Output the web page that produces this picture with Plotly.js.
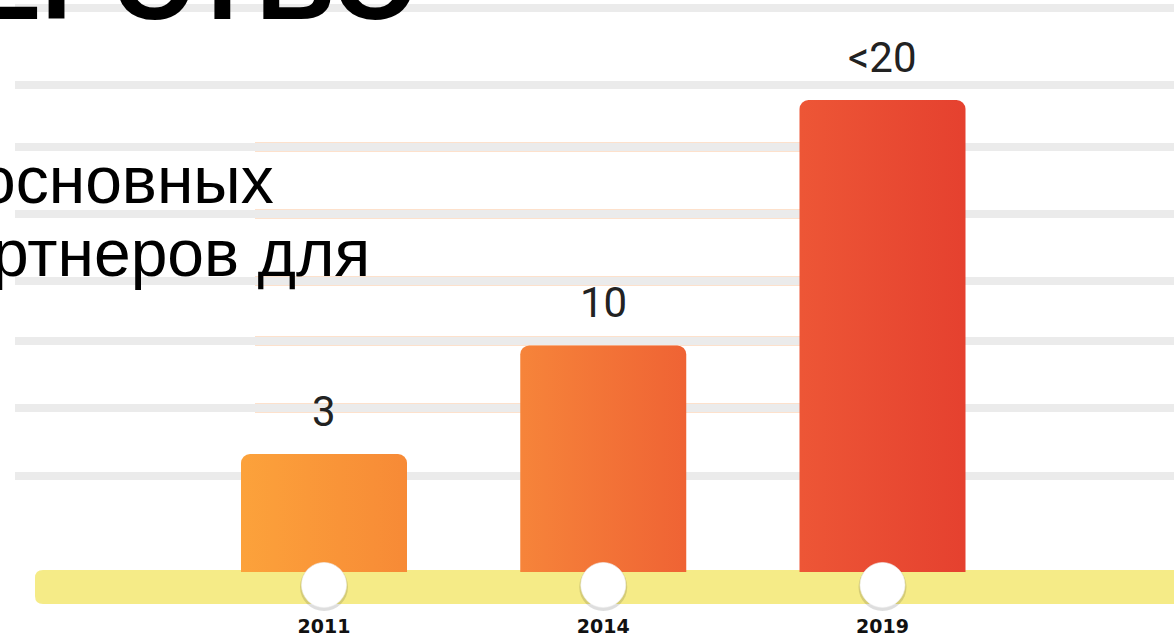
<!DOCTYPE html>
<html>
<head>
<meta charset="utf-8">
<script src="https://cdn.plot.ly/plotly-3.0.1.min.js"></script>
<style>
  html, body { margin: 0; padding: 0; background: #ffffff; }
  #chart { width: 1174px; height: 641px; }
</style>
</head>
<body>
<div id="chart"></div>
<script>
// ---- data ----
const years = ['2011', '2014', '2019'];
const barHeights = [5, 9.6, 20];          // drawn bar heights
const valueLabels = ['3', '10', '<20'];   // labels printed above bars
const markerLevel = [-0.55, -0.55, -0.55]; // timeline dots

// ---- style ----
const gradLeft  = ['#fca23b', '#f6843a', '#ed5636'];
const gradRight = ['#f78a36', '#ef6334', '#e5412f'];

const W = 1174, H = 641, MB = 28, PH = H - MB;
const pxPerUnitX = 279.25, pxPerUnitY = 23.6, x0px = 324, basePx = 572;
const px = x => x / W;
const py = y => 1 - y / PH;

const xRange = [-x0px / pxPerUnitX, (W - x0px) / pxPerUnitX];
const yRange = [-(PH - basePx) / pxPerUnitY, basePx / pxPerUnitY];
const shift = 2 / pxPerUnitY;

const esc = s => s.replace(/&/g, '&amp;').replace(/</g, '&lt;').replace(/>/g, '&gt;');

const traces = [
  {
    type: 'bar', x: years, y: barHeights,
    width: 166 / pxPerUnitX,
    marker: { color: gradRight, cornerradius: 9, line: { width: 0 } },
    hoverinfo: 'skip', showlegend: false
  },
  {
    type: 'scatter', mode: 'markers', x: years,
    y: markerLevel.map(v => v - shift),
    marker: { size: 48, color: 'rgba(0,0,0,0.13)', line: { width: 0 } },
    hoverinfo: 'skip', showlegend: false
  },
  {
    type: 'scatter', mode: 'markers', x: years, y: markerLevel,
    marker: { size: 45, color: '#ffffff', line: { width: 0.6, color: '#f0f0f0' } },
    hoverinfo: 'skip', showlegend: false
  }
];

// gridlines (decorative slide background)
const gridY = [8, 85, 147, 214, 281, 341, 408, 476];
const shapes = [];
gridY.forEach(y => {
  shapes.push({ type: 'line', xref: 'paper', yref: 'paper', x0: px(15), x1: px(W + 10),
    y0: py(y), y1: py(y), line: { color: '#ebebeb', width: 8 }, layer: 'below' });
});
[147, 214, 281, 341, 408].forEach(y => {
  [-4.5, 4.5].forEach(d => {
    shapes.push({ type: 'line', xref: 'paper', yref: 'paper', x0: px(255), x1: px(800),
      y0: py(y + d), y1: py(y + d), line: { color: 'rgba(248,170,110,0.35)', width: 1 }, layer: 'below' });
  });
});
// yellow timeline band with rounded left end
(function () {
  const L = 35, R = 1190, T = 570, B = 604, r = 8;
  const p = `M ${px(L + r)} ${py(T)} L ${px(R)} ${py(T)} L ${px(R)} ${py(B)} L ${px(L + r)} ${py(B)} ` +
            `Q ${px(L)} ${py(B)} ${px(L)} ${py(B - r)} L ${px(L)} ${py(T + r)} Q ${px(L)} ${py(T)} ${px(L + r)} ${py(T)} Z`;
  shapes.push({ type: 'path', xref: 'paper', yref: 'paper', path: p,
    fillcolor: '#f5eb87', line: { width: 0 }, layer: 'below' });
})();

const annotations = valueLabels.map((lab, i) => ({
  x: i, y: barHeights[i], xref: 'x', yref: 'y',
  text: esc(lab), showarrow: false, xanchor: 'center', yanchor: 'middle', yshift: 43,
  font: { family: 'Roboto, Arial, sans-serif', size: 42, color: '#222222' }
}));

// slide text fragments cut by the crop
annotations.push({
  xref: 'paper', yref: 'paper', x: px(420), y: py(44), xanchor: 'right', yanchor: 'bottom',
  text: 'ЕРСТВО', showarrow: false,
  font: { family: 'Liberation Sans, Arial, sans-serif', size: 110, color: '#000000', weight: 'bold' }
});
annotations.push({
  xref: 'paper', yref: 'paper', x: px(276), y: py(219), xanchor: 'right', yanchor: 'bottom',
  text: 'основных', showarrow: false,
  font: { family: 'Liberation Sans, Arial, sans-serif', size: 66, color: '#000000' }
});
annotations.push({
  xref: 'paper', yref: 'paper', x: px(372), y: py(292), xanchor: 'right', yanchor: 'bottom',
  text: 'ртнеров для', showarrow: false,
  font: { family: 'Liberation Sans, Arial, sans-serif', size: 66, color: '#000000' }
});

const layout = {
  width: W, height: H,
  margin: { l: 0, r: 0, t: 0, b: MB, pad: 0 },
  paper_bgcolor: '#ffffff', plot_bgcolor: 'rgba(0,0,0,0)',
  showlegend: false, hovermode: false,
  xaxis: {
    type: 'category', range: xRange, showgrid: false, zeroline: false, showline: false,
    ticks: '', ticklabelstandoff: 0,
    tickfont: { family: 'DejaVu Sans, sans-serif', size: 19, color: '#111111', weight: 'bold' }
  },
  yaxis: { range: yRange, showgrid: false, zeroline: false, showline: false, showticklabels: false, ticks: '' },
  shapes: shapes,
  annotations: annotations
};

Plotly.newPlot('chart', traces, layout, { staticPlot: true, displayModeBar: false }).then(gd => {
  const svg = gd.querySelector('.main-svg');
  let defs = svg.querySelector('defs');
  const NS = 'http://www.w3.org/2000/svg';
  if (!defs) { defs = document.createElementNS(NS, 'defs'); svg.insertBefore(defs, svg.firstChild); }
  gradLeft.forEach((c, i) => {
    const g = document.createElementNS(NS, 'linearGradient');
    g.setAttribute('id', 'barGrad' + i);
    g.setAttribute('x1', '0'); g.setAttribute('y1', '0'); g.setAttribute('x2', '1'); g.setAttribute('y2', '0');
    const s1 = document.createElementNS(NS, 'stop'); s1.setAttribute('offset', '0'); s1.setAttribute('stop-color', c);
    const s2 = document.createElementNS(NS, 'stop'); s2.setAttribute('offset', '1'); s2.setAttribute('stop-color', gradRight[i]);
    g.appendChild(s1); g.appendChild(s2); defs.appendChild(g);
  });
  gd.querySelectorAll('.barlayer .point path').forEach((p, i) => {
    p.style.fill = 'url(#barGrad' + i + ')';
  });
});
</script>
</body>
</html>
